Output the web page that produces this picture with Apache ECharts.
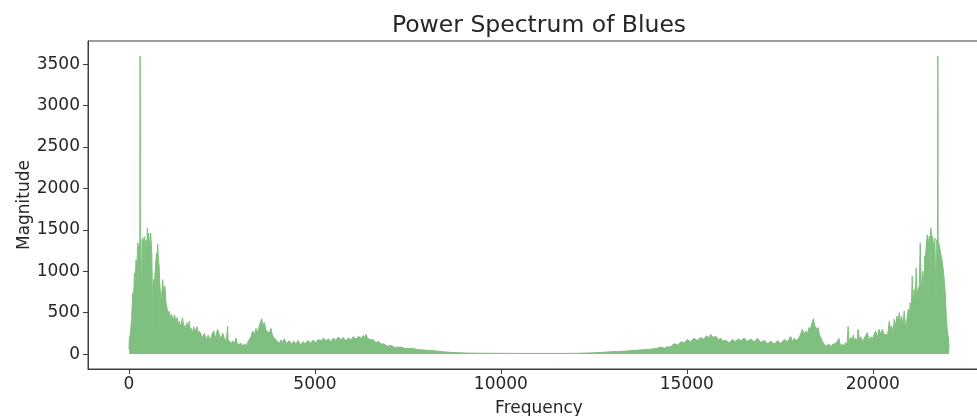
<!DOCTYPE html>
<html>
<head>
<meta charset="utf-8">
<script src="https://cdn.jsdelivr.net/npm/echarts@6/dist/echarts.min.js"></script>
<style>
  html, body { margin: 0; padding: 0; background: #ffffff; }
  #chart { width: 977px; height: 416px; }
</style>
</head>
<body>
<div id="chart"></div>
<script>
// Magnitude spectrum of the "Blues" clip, sampled along the frequency axis (Hz).
const freqs = [
  // low-frequency cluster
  0, 10, 40, 70, 100, 120, 145, 165, 190, 210, 235, 255, 280, 292, 298, 304, 320, 345, 360, 385,
  410, 435, 457, 475, 493, 510, 529, 545, 556, 570, 583, 600, 615, 630, 645, 660, 680, 700, 720, 740,
  755, 771, 790, 810, 830, 845, 865, 880, 905, 930, 965, 990, 1020, 1050, 1080, 1110, 1140, 1170, 1200, 1230,
  1260, 1290, 1320, 1350, 1380, 1410, 1440, 1470, 1500, 1530, 1560, 1590, 1620, 1650, 1680, 1710, 1740, 1770, 1800, 1830,
  1860, 1890, 1935,
  // 2 - 4 kHz
  1980, 2030, 2080, 2130, 2180, 2230, 2280, 2330, 2380, 2410, 2440, 2473, 2520, 2563, 2610, 2640, 2652, 2665, 2700, 2750,
  2787, 2830, 2876, 2920, 2966, 3010, 3055, 3100, 3150, 3190, 3235, 3280, 3324, 3370, 3414, 3460, 3503, 3540, 3566, 3600,
  3638, 3680, 3727, 3770, 3817, 3860, 3907, 3950, 3996,
  // 4 - 8 kHz
  4040, 4086, 4130, 4175, 4230, 4310, 4370, 4430, 4490, 4550, 4610, 4680, 4740, 4810, 4880, 4950, 5027, 5080, 5116, 5170,
  5230, 5295, 5360, 5430, 5500, 5560, 5630, 5699, 5760, 5830, 5900, 5967, 6030, 6100, 6170, 6236, 6300, 6340, 6371, 6410,
  6460, 6505, 6570, 6640, 6710, 6774, 6850, 6952, 7050, 7150, 7311, 7450, 7600, 7759, 7900,
  // quiet middle band
  8050, 8207, 8400, 8655, 8900, 9103, 9500, 10000, 10500, 11000, 11500, 12000, 12400, 12687, 12956, 13135, 13350, 13583, 13800,
  // 14 - 20 kHz
  14030, 14200, 14290, 14400, 14478, 14560, 14649, 14750, 14850, 14926, 15010, 15100, 15195, 15280, 15366, 15450, 15530, 15600, 15644, 15700,
  15780, 15850, 15913, 15980, 16050, 16137, 16220, 16316, 16380, 16451, 16540, 16630, 16720, 16809, 16900, 16989, 17080, 17168, 17260, 17347,
  17440, 17526, 17620, 17706, 17750, 17795, 17840, 17885, 17950, 18019, 18060, 18108, 18150, 18198, 18240, 18288, 18320, 18351, 18380, 18404,
  18435, 18467, 18500, 18530, 18565, 18602, 18650, 18691, 18730, 18763, 18825, 18870, 18915, 18960, 19004, 19050, 19094, 19130, 19184, 19230,
  19273, 19310, 19336, 19360, 19408, 19445, 19480, 19510, 19542, 19575, 19605, 19640, 19677, 19720, 19766, 19810, 19856, 19900, 19945, 19990,
  20035, 20080, 20124, 20170, 20213, 20258,
  // high-frequency cluster
  20300, 20350, 20400, 20445, 20480, 20510, 20545, 20577, 20610, 20650, 20680, 20711, 20740, 20775, 20810, 20846, 20870, 20890, 20920, 20953,
  20980, 21007, 21035, 21061, 21090, 21115, 21140, 21168, 21195, 21222, 21250, 21276, 21300, 21321, 21345, 21380, 21398, 21410, 21420, 21440,
  21464, 21490, 21518, 21540, 21563, 21585, 21607, 21635, 21670, 21690, 21705, 21722, 21744, 21750, 21756, 21770, 21815, 21860, 21905, 21950,
  21980, 22010, 22040, 22050
];

const mags = [
  // low-frequency cluster
  60, 180, 260, 420, 740, 600, 980, 860, 1140, 1000, 1340, 1250, 1340, 1300, 3600, 1350, 1380, 500, 1400, 1330,
  1420, 1300, 1380, 1250, 1520, 1380, 1460, 1300, 1280, 1400, 1460, 1320, 1180, 1200, 180, 900, 820, 980, 1100, 1220,
  1100, 1330, 1150, 1060, 820, 740, 620, 700, 900, 760, 820, 640, 560, 470, 520, 430, 480, 500, 420, 470,
  380, 440, 350, 400, 330, 380, 440, 320, 350, 290, 380, 300, 400, 280, 310, 250, 330, 270, 290, 330,
  230, 280, 300,
  // 2 - 4 kHz
  200, 250, 170, 230, 160, 240, 280, 190, 300, 310, 220, 180, 250, 190, 160, 260, 336, 170, 180, 130,
  160, 120, 192, 110, 90, 130, 95, 125, 100, 140, 150, 210, 280, 230, 310, 260, 340, 330, 428, 350,
  380, 290, 300, 250, 310, 220, 230, 170, 160,
  // 4 - 8 kHz
  130, 170, 140, 185, 130, 160, 120, 155, 125, 165, 110, 150, 125, 165, 130, 170, 135, 175, 190, 160,
  195, 160, 185, 150, 195, 165, 205, 175, 200, 160, 195, 170, 210, 180, 215, 190, 225, 200, 240, 195,
  210, 170, 175, 135, 155, 120, 125, 95, 105, 80, 85, 65, 70, 55, 50,
  // quiet middle band
  45, 40, 30, 20, 15, 12, 10, 9, 8, 8, 8, 9, 14, 20, 28, 30, 36, 44, 52,
  // 14 - 20 kHz
  58, 70, 85, 70, 90, 85, 125, 110, 150, 135, 175, 150, 190, 165, 200, 180, 220, 195, 240, 200,
  215, 175, 190, 155, 170, 130, 175, 150, 185, 160, 195, 155, 180, 150, 190, 140, 165, 125, 155, 120,
  160, 130, 175, 150, 180, 212, 150, 190, 160, 200, 240, 300, 230, 280, 240, 320, 280, 360, 340, 428,
  350, 370, 290, 320, 230, 220, 150, 140, 95, 100, 120, 90, 115, 100, 130, 110, 188, 100, 120, 95,
  140, 110, 332, 150, 200, 170, 230, 150, 190, 140, 300, 170, 210, 150, 190, 170, 260, 160, 210, 180,
  240, 280, 200, 300, 240, 300,
  // high-frequency cluster
  240, 260, 230, 400, 300, 340, 250, 420, 330, 460, 350, 500, 380, 460, 340, 520, 380, 300, 420, 540,
  460, 620, 500, 940, 600, 780, 640, 1040, 700, 780, 820, 1340, 900, 660, 1000, 820, 1180, 200, 1200, 1180,
  1440, 1300, 1420, 1350, 1520, 1380, 1420, 1300, 1400, 1380, 500, 1380, 1300, 3600, 1320, 1350, 1340, 1140, 980, 740,
  420, 260, 180, 60
];

const xTicks = [0, 5000, 10000, 15000, 20000];
const yTicks = [0, 500, 1000, 1500, 2000, 2500, 3000, 3500];
const chartTitle = 'Power Spectrum of Blues';
const xName = 'Frequency';
const yName = 'Magnitude';

const FONT = 'DejaVu Sans, sans-serif';
const INK = '#262626';
const FRAME = '#3c3c3c';
const GREEN = '#7fbf7f';

const points = freqs.map((f, i) => [f, mags[i]]);
const plain = (v) => String(v);

const chart = echarts.init(document.getElementById('chart'), null, { renderer: 'canvas' });
chart.setOption({
  animation: false,
  backgroundColor: '#ffffff',
  title: {
    text: chartTitle,
    left: 534,
    top: 9,
    textAlign: 'center',
    textStyle: { fontFamily: FONT, fontSize: 23.5, fontWeight: 'normal', color: INK }
  },
  grid: {
    left: 88, right: -13, top: 41, bottom: 47,
    outerBoundsMode: 'none',
    containLabel: false,
    show: true, borderColor: FRAME, borderWidth: 1, backgroundColor: 'transparent'
  },
  xAxis: {
    type: 'value',
    min: -1102.5, max: 23152.5,
    name: xName, nameLocation: 'middle', nameGap: 31, nameMoveOverlap: false,
    nameTextStyle: { fontFamily: FONT, fontSize: 17, color: INK },
    axisLine: { show: true, onZero: false, lineStyle: { color: FRAME, width: 1 } },
    axisTick: { show: true, length: 5, customValues: xTicks, lineStyle: { color: FRAME } },
    axisLabel: { customValues: xTicks, formatter: plain, fontFamily: FONT, fontSize: 17, color: INK, margin: 7 },
    splitLine: { show: false }
  },
  yAxis: {
    type: 'value',
    min: -180, max: 3780,
    name: yName, nameLocation: 'middle', nameGap: 55, nameRotate: 90, nameMoveOverlap: false,
    nameTextStyle: { fontFamily: FONT, fontSize: 17, color: INK },
    axisLine: { show: true, onZero: false, lineStyle: { color: FRAME, width: 1 } },
    axisTick: { show: true, length: 5, customValues: yTicks, lineStyle: { color: FRAME } },
    axisLabel: { customValues: yTicks, formatter: plain, fontFamily: FONT, fontSize: 17, color: INK, margin: 8 },
    splitLine: { show: false }
  },
  series: [{
    type: 'line',
    data: points,
    showSymbol: false,
    symbol: 'none',
    sampling: null,
    lineStyle: { color: GREEN, width: 1 },
    areaStyle: { color: GREEN, opacity: 1, origin: 0 },
    emphasis: { disabled: true },
    clip: true
  }]
});
</script>
</body>
</html>
